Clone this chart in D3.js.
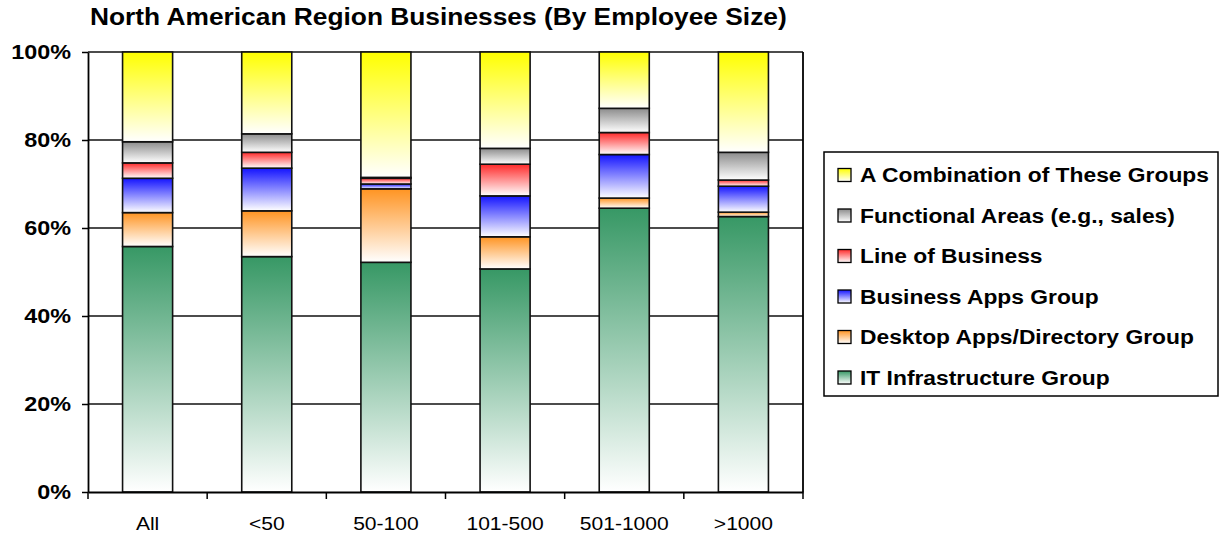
<!DOCTYPE html>
<html><head><meta charset="utf-8">
<script src="https://cdn.jsdelivr.net/npm/d3@7/dist/d3.min.js"></script>
<style>body{margin:0;background:#fff;font-family:"Liberation Sans",Arial,sans-serif;}</style>
</head><body><svg id="c" width="1223" height="535"></svg>
<script>
const categories = ["All", "<50", "50-100", "101-500", "501-1000", ">1000"];
const seriesNames = ["IT Infrastructure Group", "Desktop Apps/Directory Group", "Business Apps Group", "Line of Business", "Functional Areas (e.g., sales)", "A Combination of These Groups"];
const itInfra     = [55.8, 53.5, 52.2, 50.7, 64.5, 62.6];
const desktopApps = [7.7, 10.4, 16.7, 7.3, 2.3, 1.0];
const businessApps= [7.8, 9.7, 1.1, 9.3, 9.9, 5.9];
const lineOfBiz   = [3.5, 3.6, 1.3, 7.2, 5.0, 1.4];
const functional  = [4.8, 4.2, 0.2, 3.6, 5.5, 6.3];
const combination = [20.4, 18.6, 28.5, 21.9, 12.8, 22.8];
const seriesColors = ["#379865", "#ff9422", "#1414ff", "#ff2a2a", "#8c8c8c", "#ffff00"];
const yTicks = [0, 20, 40, 60, 80, 100];

const STRETCH = 1.17;
function stretch(sel, k) {
  sel.each(function() {
    const w = this.getComputedTextLength();
    d3.select(this).attr("textLength", w * (k || STRETCH)).attr("lengthAdjust", "spacingAndGlyphs");
  });
}

const seriesValues = [itInfra, desktopApps, businessApps, lineOfBiz, functional, combination];
const svg = d3.select("#c");
const m = {l: 88, r: 803, t: 52, b: 492};
const x = d3.scaleBand().domain(categories).range([m.l, m.r]).paddingInner(0.58).paddingOuter(0.29);
const y = d3.scaleLinear().domain([0, 100]).range([m.b, m.t]);

const defs = svg.append("defs");
seriesColors.forEach((c, i) => {
  const g = defs.append("linearGradient").attr("id", "g" + i).attr("x1", 0).attr("y1", 0).attr("x2", 0).attr("y2", 1);
  g.append("stop").attr("offset", "0%").attr("stop-color", c);
  g.append("stop").attr("offset", "100%").attr("stop-color", "#ffffff");
});

// gridlines
svg.append("g").selectAll("line").data(yTicks.filter(t => t > 0)).join("line")
  .attr("x1", m.l).attr("x2", m.r).attr("y1", d => y(d)).attr("y2", d => y(d))
  .attr("stroke", "#111").attr("stroke-width", 1.5);
svg.append("line").attr("x1", m.r).attr("x2", m.r).attr("y1", m.t).attr("y2", m.b).attr("stroke", "#000").attr("stroke-width", 1.8);

// stacked bars
const table = categories.map((c, i) => {
  const o = {cat: c};
  seriesNames.forEach((s, j) => o[s] = seriesValues[j][i]);
  return o;
});
const stack = d3.stack().keys(seriesNames)(table);
stack.forEach((layer, j) => {
  svg.append("g").selectAll("rect").data(layer).join("rect")
    .attr("x", d => x(d.data.cat)).attr("width", x.bandwidth())
    .attr("y", d => y(d[1])).attr("height", d => Math.max(0, y(d[0]) - y(d[1])))
    .attr("fill", `url(#g${j})`).attr("stroke", "#111").attr("stroke-width", 1.6);
});

// axes
const yAxis = svg.append("g").attr("transform", `translate(${m.l},0)`)
  .call(d3.axisLeft(y).tickValues(yTicks).tickFormat(d => d + "%").tickSize(6).tickSizeOuter(0));
yAxis.select(".domain").attr("stroke", "#000").attr("stroke-width", 1.8);
yAxis.selectAll(".tick line").attr("stroke", "#000").attr("stroke-width", 1.5);
yAxis.selectAll("text").attr("font-family", "Liberation Sans, Arial, sans-serif").attr("font-weight", "bold")
  .attr("font-size", 20).attr("fill", "#000").attr("x", -17).attr("dy", "0.3em").call(stretch);

const xAxis = svg.append("g").attr("transform", `translate(0,${m.b})`)
  .call(d3.axisBottom(x).tickSize(0).tickSizeOuter(0));
xAxis.select(".domain").attr("stroke", "#000").attr("stroke-width", 1.8);
xAxis.selectAll("text").attr("font-family", "Liberation Sans, Arial, sans-serif").attr("font-size", 18)
  .attr("fill", "#000").attr("dy", 0).attr("y", 38).call(stretch);
// category separators
const bounds = d3.range(categories.length + 1).map(i => m.l + i * (m.r - m.l) / categories.length);
svg.append("g").selectAll("line").data(bounds).join("line")
  .attr("x1", d => d).attr("x2", d => d).attr("y1", m.b).attr("y2", m.b + 7)
  .attr("stroke", "#000").attr("stroke-width", 1.5);

// title
svg.append("text").attr("x", 90).attr("y", 25).attr("text-anchor", "start")
  .attr("font-weight", "bold").attr("font-size", 23.5).attr("fill", "#000")
  .text("North American Region Businesses (By Employee Size)").call(stretch, 1.12);

// legend
const lg = svg.append("g");
lg.append("rect").attr("x", 824).attr("y", 152).attr("width", 394).attr("height", 244)
  .attr("fill", "#fff").attr("stroke", "#000").attr("stroke-width", 1.5);
const order = d3.range(seriesNames.length).reverse();
order.forEach((j, k) => {
  const yy = 175 + k * 40.5;
  lg.append("rect").attr("x", 838).attr("y", yy - 6.5).attr("width", 13).attr("height", 13)
    .attr("fill", `url(#g${j})`).attr("stroke", "#000").attr("stroke-width", 1.3);
  lg.append("text").attr("x", 860).attr("y", yy).attr("dy", "0.36em")
    .attr("font-weight", "bold").attr("font-size", 19.5).attr("fill", "#000").text(seriesNames[j]).call(stretch);
});
</script></body></html>
